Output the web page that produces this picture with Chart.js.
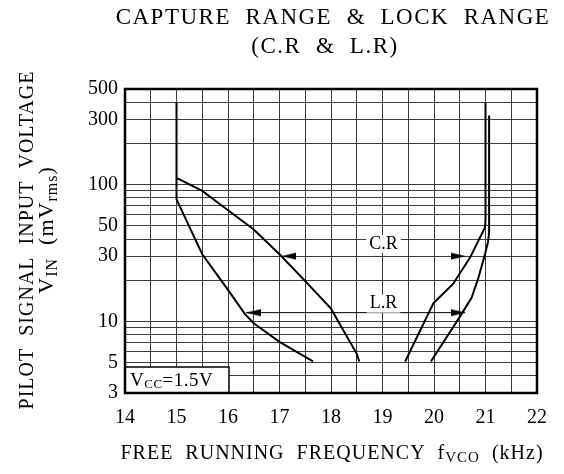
<!DOCTYPE html>
<html>
<head>
<meta charset="utf-8">
<script src="https://cdn.jsdelivr.net/npm/chart.js@4.4.1/dist/chart.umd.min.js"></script>
<style>
  html, body { margin: 0; padding: 0; background: #fff; }
</style>
</head>
<body>
<canvas id="chart" width="564" height="474"></canvas>
<script>
// Capture range (inner) curves
const crLeftX = [15, 15, 15.5, 16, 16.5, 17, 17.5, 18, 18.5, 18.55];
const crLeftY = [400, 112, 90, 65, 47, 31, 19.7, 12.4, 5.8, 5.1];
const crRightX = [19.44, 19.99, 20.37, 20.70, 20.99, 21.0, 21.0];
const crRightY = [5.1, 13.6, 18.8, 29.3, 48.6, 55, 400];

// Lock range (outer) curves
const lrLeftX = [15, 15, 15.5, 16, 16.33, 16.5, 17, 17.65];
const lrLeftY = [112, 78, 31, 17, 11.3, 9.7, 7.1, 5.1];
const lrRightX = [19.94, 20.5, 20.73, 20.86, 20.99, 21.05, 21.07, 21.07];
const lrRightY = [5.1, 10.8, 14.9, 20.7, 31, 38.3, 44.5, 320];

// arrows marking the ranges
const crArrowX = [17.18, 20.47];
const crArrowY = [30, 30];
const lrShaftX = [16.35, 20.6];
const lrArrowX = [16.49, 20.47];
const lrArrowY = [11.6, 11.6];

// range labels
const rangeLabels = ['C.R', 'L.R'];
const rangeLabelX = [19.02, 19.02];
const rangeLabelY = [36.8, 13.5];

// axes
const xMin = 14, xMax = 22, xStep = 0.5;
const yGrid = [3, 4, 5, 6, 7, 8, 9, 10, 20, 30, 40, 50, 60, 70, 80, 90, 100, 200, 300, 400, 500];
const yLabels = [3, 5, 10, 30, 50, 100, 300, 500];

const SERIF = '"Liberation Serif", "DejaVu Serif", serif';

const pts = (xs, ys) => xs.map((x, i) => ({ x: x, y: ys[i] }));

function wedge(dir) {
    const c = document.createElement('canvas');
    c.width = 15; c.height = 8;
    const g = c.getContext('2d');
    g.fillStyle = '#000';
    g.beginPath();
    if (dir < 0) { g.moveTo(0, 4); g.lineTo(15, 0.5); g.lineTo(15, 7.5); }
    else { g.moveTo(15, 4); g.lineTo(0, 0.5); g.lineTo(0, 7.5); }
    g.closePath();
    g.fill();
    return c;
}
const arrowStyles = [wedge(-1), wedge(1)];

function curve(data) {
    return { data: data, borderColor: '#000', borderWidth: 2, pointRadius: 0, tension: 0, fill: false };
}

// text runs with subscripts: [text, size, dy]; spacing = letter spacing in px
function drawRuns(ctx, runs, x, y, align, spacing) {
    ctx.letterSpacing = (spacing || 0) + 'px';
    let total = 0;
    runs.forEach(r => { ctx.font = r[1] + 'px ' + SERIF; total += ctx.measureText(r[0]).width; });
    let cx = align === 'center' ? x - total / 2 : x;
    ctx.textAlign = 'left';
    ctx.textBaseline = 'alphabetic';
    runs.forEach(r => {
        ctx.font = r[1] + 'px ' + SERIF;
        ctx.fillText(r[0], cx, y + (r[2] || 0));
        cx += ctx.measureText(r[0]).width;
    });
    ctx.letterSpacing = '0px';
}

const decorPlugin = {
    id: 'decor',
    beforeDraw(chart) {
        const ctx = chart.ctx;
        ctx.save();
        ctx.fillStyle = '#fff';
        ctx.fillRect(0, 0, chart.width, chart.height);
        ctx.restore();
    },
    afterDatasetsDraw(chart) {
        const ctx = chart.ctx;
        const xs = chart.scales.x, ys = chart.scales.y;
        const a = chart.chartArea;
        ctx.save();
        ctx.fillStyle = '#000';

        // range labels with white backing
        ctx.font = '18px ' + SERIF;
        ctx.textAlign = 'center';
        ctx.textBaseline = 'middle';
        rangeLabels.forEach((t, i) => {
            const px = xs.getPixelForValue(rangeLabelX[i]);
            const py = ys.getPixelForValue(rangeLabelY[i]);
            const w = ctx.measureText(t).width;
            ctx.fillStyle = '#fff';
            ctx.fillRect(px - w / 2 - 3, py - 9, w + 6, 18);
            ctx.fillStyle = '#000';
            ctx.fillText(t, px, py);
        });

        // VCC box
        ctx.fillStyle = '#fff';
        ctx.fillRect(a.left, a.bottom - 26, 104, 26);
        ctx.strokeStyle = '#000';
        ctx.lineWidth = 1.5;
        ctx.strokeRect(a.left, a.bottom - 26, 104, 26);
        ctx.fillStyle = '#000';
        drawRuns(ctx, [['V', 19], ['CC', 13, 2], ['=1.5V', 19]], a.left + 5, a.bottom - 7, 'left', 0.5);

        // frame
        ctx.lineWidth = 2.5;
        ctx.strokeRect(a.left, a.top, a.right - a.left, a.bottom - a.top);

        // titles
        drawRuns(ctx, [['CAPTURE  RANGE  &  LOCK  RANGE', 23]], 333, 24, 'center', 1.5);
        drawRuns(ctx, [['(C.R  &  L.R)', 23]], 325, 53, 'center', 1.5);

        drawRuns(ctx, [['FREE  RUNNING  FREQUENCY  f', 20], ['VCO', 15, 3], ['  (kHz)', 20]], 332, 459, 'center', 1);

        ctx.save();
        ctx.translate(33, 240);
        ctx.rotate(-Math.PI / 2);
        drawRuns(ctx, [['PILOT  SIGNAL  INPUT  VOLTAGE', 20]], 0, 0, 'center', 1);
        ctx.restore();

        ctx.save();
        ctx.translate(53, 230);
        ctx.rotate(-Math.PI / 2);
        drawRuns(ctx, [['V', 22], ['IN', 16, 4], ['  (mV', 22], ['rms', 16, 4], [')', 22]], 0, 0, 'center', 1);
        ctx.restore();

        ctx.restore();
    }
};

new Chart(document.getElementById('chart'), {
    type: 'line',
    data: {
        datasets: [
            curve(pts(crLeftX, crLeftY)),
            curve(pts(crRightX, crRightY)),
            curve(pts(lrLeftX, lrLeftY)),
            curve(pts(lrRightX, lrRightY)),
            { data: pts(lrShaftX, lrArrowY), borderColor: '#000', borderWidth: 1, pointRadius: 0 },
            { data: pts(crArrowX, crArrowY), showLine: false, pointStyle: arrowStyles, pointRadius: 7 },
            { data: pts(lrArrowX, lrArrowY), showLine: false, pointStyle: arrowStyles, pointRadius: 7 }
        ]
    },
    options: {
        responsive: false,
        animation: false,
        layout: { padding: { left: 0, top: 89, right: 27, bottom: 0 } },
        plugins: { legend: { display: false }, tooltip: { enabled: false }, title: { display: false } },
        scales: {
            x: {
                type: 'linear',
                min: xMin, max: xMax,
                afterFit: s => { s.height = 81; },
                ticks: {
                    stepSize: xStep,
                    autoSkip: false,
                    maxRotation: 0,
                    padding: 13,
                    color: '#000',
                    font: { family: SERIF, size: 20 },
                    callback: v => Number.isInteger(v) ? String(v) : ''
                },
                grid: { color: '#3c3c3c', lineWidth: 1, drawTicks: false },
                border: { display: false }
            },
            y: {
                type: 'logarithmic',
                min: 3, max: 500,
                afterFit: s => { s.width = 125; },
                afterBuildTicks: s => { s.ticks = yGrid.map(v => ({ value: v })); },
                ticks: {
                    autoSkip: false,
                    padding: 7,
                    color: '#000',
                    font: { family: SERIF, size: 20 },
                    callback: v => yLabels.includes(v) ? String(v) : ''
                },
                grid: { color: '#3c3c3c', lineWidth: 1, drawTicks: false },
                border: { display: false }
            }
        }
    },
    plugins: [decorPlugin]
});
</script>
</body>
</html>
